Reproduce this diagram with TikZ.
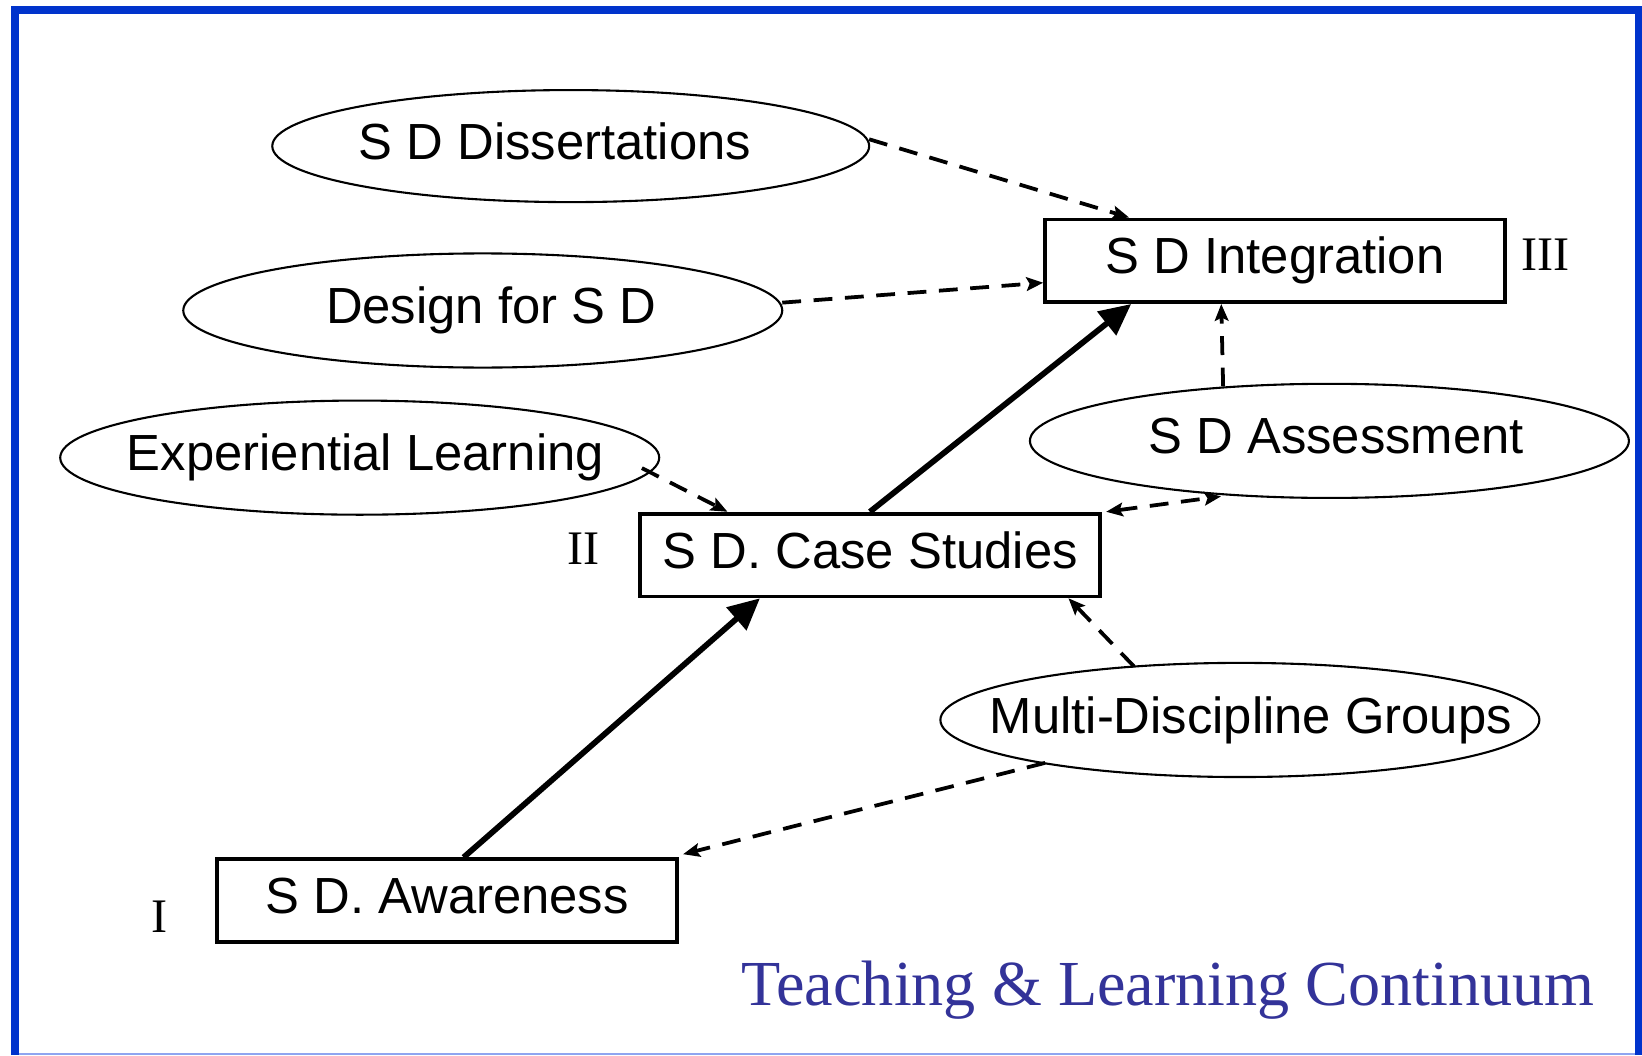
\documentclass[tikz,border=0pt]{standalone}
\usepackage{fontspec}
\setmainfont{Liberation Serif}
\setsansfont{Liberation Sans}
\usetikzlibrary{arrows.meta,calc,shapes.geometric}
\definecolor{frameblue}{RGB}{0,51,204}
\definecolor{framelight}{RGB}{143,165,240}
\definecolor{titleblue}{RGB}{51,51,153}
\begin{document}
\begin{tikzpicture}[x=1pt,y=-1pt,
  lbl/.style={font=\sffamily\fontsize{48.5}{58}\selectfont, text height=35pt, text depth=10pt, inner sep=0pt},
  oval/.style={lbl, draw, ellipse, line width=2pt, minimum width=572pt, minimum height=109pt},
  stagebox/.style={lbl, draw, rectangle, line width=3.6pt, minimum width=439pt, minimum height=79pt},
  feed/.style={draw, line width=3.6pt, dash pattern=on 18pt off 12pt, -{Stealth[length=16pt,width=13pt,inset=3pt]}},
  progress/.style={draw, line width=5.5pt, -{Triangle[length=30pt,width=28pt]}},
  numeral/.style={font=\rmfamily\fontsize{46}{52}\selectfont, inner sep=0pt},
]
\useasboundingbox (0,0) rectangle (1568,1007.5);
% frame
\draw[framelight, line width=2pt] (18,1006.5) -- (1561,1006.5);
\draw[frameblue, line width=7.6pt, miter limit=10] (14.3,1007.5) -- (14.3,9.5) -- (1564.7,9.5) -- (1564.7,1007.5);

% stages
\node[stagebox] (integ) at (1217.5,249) {S D Integration};
\node[stagebox] (case) at (831,530) {S D. Case Studies};
\node[stagebox] (aware) at (427,860) {S D. Awareness};

% ovals
\node[oval, minimum width=570pt, minimum height=107pt] (diss) at (545,139.5) {\makebox[0pt]{\hspace*{-30pt}S D Dissertations}};
\node[oval] (design) at (461,296.5) {\makebox[0pt]{\hspace*{16pt}Design for S D}};
\node[oval] (exper) at (343.5,437) {\makebox[0pt]{\hspace*{11pt}Experiential Learning}};
\node[oval] (assess) at (1269.5,421) {\makebox[0pt]{\hspace*{13pt}S D Assessment}};
\node[oval] (multi) at (1184,687.5) {\makebox[0pt]{\hspace*{21pt}Multi-Discipline Groups}};

% numerals
\node[numeral] (n3) at (1476,243) {III};
\node[numeral] (n2) at (557,524) {II};
\node[numeral] (n1) at (152,875) {I};

% title
\node[anchor=base west, font=\rmfamily\fontsize{61.3}{70}\selectfont, text=titleblue, inner sep=0pt] (title) at (708,960) {Teaching \& Learning Continuum};

% solid progress arrows
\draw[progress] ($(aware.north west)+(237,0)$) -- ($(case.south west)+(116,0)$);
\draw[progress] ($(case.north west)+(221,0)$) -- ($(integ.south west)+(84,0)$);

% dashed feed arrows
\draw[feed] ($(diss.center)+(285,-6.5)$) -- ($(integ.north west)+(82,0)$);
\draw[feed] ($(design.center)+(286,-7.5)$) -- ($(integ.west)+(0,21)$);
\draw[feed] ($(exper.center)+(269.5,10)$) -- ($(case.north west)+(85,0)$);
\draw[feed, {Stealth[length=16pt,width=13pt,inset=3pt]}-{Stealth[length=16pt,width=13pt,inset=3pt]}] ($(case.north east)+(4,0)$) -- ($(assess.center)+(-103.5,53)$);
\draw[feed] ($(assess.center)+(-101.5,-52)$) -- ($(integ.south west)+(170,0)$);
\draw[feed] ($(multi.center)+(-101,-51)$) -- ($(case.south east)+(-32,0)$);
\draw[feed] ($(multi.center)+(-186,41)$) -- ($(aware.north east)+(4,-3)$);
\end{tikzpicture}
\end{document}
